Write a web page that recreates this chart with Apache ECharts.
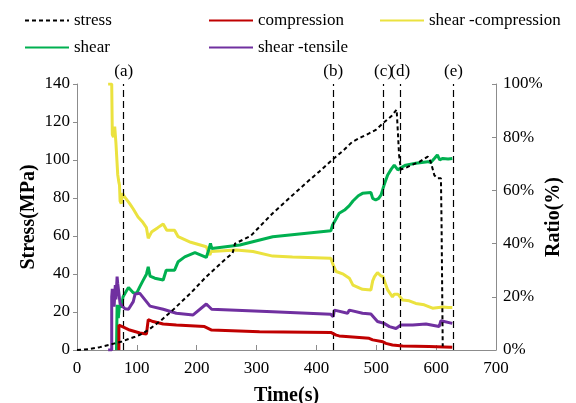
<!DOCTYPE html>
<html>
<head>
<meta charset="utf-8">
<script src="https://cdn.jsdelivr.net/npm/echarts@6/dist/echarts.min.js"></script>
<style>
  html, body { margin: 0; padding: 0; background: #fff; }
  #chart { width: 576px; height: 403px; }
</style>
</head>
<body>
<div id="chart"></div>
<script>
// Axial stress (MPa) against time (s)
const stress = [
  [0, 0], [20, 0.5], [38, 1.5], [55, 2.8], [63, 3.5], [75, 4.5], [86, 5.8], [97, 7],
  [105, 8], [119, 10.5], [140, 15.5], [160, 21], [190, 30], [216, 38.6], [245, 47],
  [260, 51], [264, 56], [290, 60], [327, 72], [355, 80], [383, 88], [405, 94],
  [428, 100.5], [445, 105], [460, 109.6], [475, 112], [488, 114], [500, 116],
  [511, 119.3], [525, 123], [534, 126.5], [536, 115], [538, 103], [541, 95],
  [550, 96], [560, 97.5], [572, 99], [586, 101.8], [591, 99], [597, 92], [602, 90.4],
  [608, 90.4], [609, 68], [611, 2]
];

// Share (%) of each failure type among the events
const compression = [
  [70, 0], [70, 9.4], [72, 8.8], [82, 8.1], [88, 7.5], [105, 6.4], [116, 6], [119, 11.4],
  [127, 10.7], [144, 9.8], [166, 9.4], [213, 8.8], [225, 7.5], [305, 6.9], [424, 6.6],
  [433, 5.6], [438, 5.3], [455, 5], [488, 4.4], [494, 3.8], [511, 3.1], [516, 2.5],
  [527, 1.9], [544, 1.5], [588, 1.3], [627, 1]
];

const shearCompression = [
  [52, 100], [58, 100], [59, 81], [61, 80], [63, 84], [65, 78], [68, 66], [70, 63],
  [71, 62], [72, 56], [74, 55], [76, 59], [78, 58], [88, 55], [94, 53], [102, 50],
  [110, 48], [116, 46], [119, 42], [121, 41.5], [125, 44.5], [135, 46], [144, 47.4],
  [150, 45], [163, 45], [169, 42.6], [190, 40.5], [216, 38.8], [222, 35.7], [224, 37],
  [266, 37.6], [294, 37], [327, 35.3], [360, 35], [424, 34.5], [428, 32], [433, 29.5],
  [445, 28.5], [455, 27], [461, 24.4], [477, 22.8], [491, 22.6], [494, 26], [497, 27.6],
  [502, 29.1], [507, 28], [511, 27.6], [519, 22.6], [527, 20], [530, 21], [536, 21],
  [544, 18.8], [555, 18.5], [566, 17.5], [580, 17], [594, 15.7], [611, 16.2], [620, 16],
  [627, 16]
];

const shear = [
  [66, 0], [67, 17], [69, 12], [71, 17], [74, 16], [77, 20], [82, 22], [86, 23.5],
  [88, 23.2], [94, 21.5], [99.5, 21.3], [105, 23.8], [110, 26], [116, 28.5], [119, 31.3],
  [122, 27.8], [130, 27], [144, 26.3], [149, 30], [163, 30], [169, 33.2], [180, 35],
  [197, 36.6], [216, 34.8], [220, 37.6], [223, 40.1], [225, 38.2], [272, 39.5],
  [327, 42.6], [424, 44.8], [427, 47], [432, 49], [438, 51.4], [447, 52.6], [455, 54.3],
  [461, 56], [470, 58], [477, 58.9], [491, 59.2], [494, 57], [499, 56.4], [504, 57],
  [508, 58.3], [513, 62], [519, 65.8], [525, 68], [530, 69.5], [536, 67.7], [541, 68.5],
  [549, 69.5], [566, 70.2], [586, 70.8], [591, 70.5], [597, 72], [602, 73.3], [606, 71.5],
  [611, 72], [620, 71.8], [627, 72]
];

const shearTensile = [
  [52, 0], [58, 0], [58, 20], [59, 23], [61, 20], [62, 16.3], [64, 24.4], [65, 19],
  [67, 27.6], [68, 25], [70, 24.4], [72, 17.5], [74, 17], [80, 15.5], [86, 15.3],
  [88, 15.8], [94, 18.2], [97, 21], [105, 21.3], [111, 19.6], [113, 20], [122, 16.5],
  [144, 15.3], [166, 13.8], [194, 13.2], [216, 17.3], [225, 15.3], [327, 14.4],
  [424, 13.4], [428, 12.5], [430, 15], [452, 13.8], [455, 15], [458, 14.5], [477, 13.8],
  [491, 13.5], [502, 10.7], [513, 10], [522, 8.8], [533, 8.1], [541, 9.4], [561, 9.4],
  [583, 9.8], [605, 8.8], [608, 11], [611, 11.3], [627, 10]
];

// Stage markers (time, label)
const stageTimes = [78, 428, 512, 540, 629];
const stageLabels = ['(a)', '(b)', '(c)', '(d)', '(e)'];

const timeTicks = { min: 0, max: 700, interval: 100 };
const stressTicks = { min: 0, max: 140, interval: 20 };
const ratioTicks = { min: 0, max: 100, interval: 20 };

const FONT = "'Liberation Serif', 'Times New Roman', serif";
const AXIS_GRAY = '#8c8c8c';

const chart = echarts.init(document.getElementById('chart'), null, { renderer: 'canvas' });

// One legend block per entry so the two rows can be laid out freely
function legendAt(name, left, top) {
  return {
    data: [name], left: left, top: top, itemWidth: 44, itemHeight: 12, itemGap: 4,
    itemStyle: { opacity: 0 },
    textStyle: { fontFamily: FONT, fontSize: 17, color: '#000' }
  };
}

const nameStyle = { fontFamily: FONT, fontSize: 20, fontWeight: 'bold', color: '#000' };
const tickText = { fontFamily: FONT, fontSize: 17, color: '#000' };

const lineBase = { type: 'line', showSymbol: false, symbol: 'none', smooth: false, animation: false };

chart.setOption({
  backgroundColor: '#fff',
  animation: false,
  textStyle: { fontFamily: FONT },
  grid: { left: 77, right: 80, top: 84, bottom: 53, containLabel: false, outerBoundsMode: 'none' },
  legend: [
    legendAt('stress', 19, 7),
    legendAt('compression', 203, 7),
    legendAt('shear -compression', 374, 7),
    legendAt('shear', 19, 34),
    legendAt('shear -tensile', 203, 34)
  ],
  xAxis: {
    type: 'value', min: timeTicks.min, max: timeTicks.max, interval: timeTicks.interval,
    name: 'Time(s)', nameLocation: 'middle', nameGap: 36, nameTextStyle: nameStyle,
    axisLine: { show: true, lineStyle: { color: AXIS_GRAY, width: 1 } },
    axisTick: { show: true, inside: true, length: 5, lineStyle: { color: AXIS_GRAY } },
    axisLabel: Object.assign({ margin: 10 }, tickText),
    splitLine: { show: false }
  },
  yAxis: [
    {
      type: 'value', min: stressTicks.min, max: stressTicks.max, interval: stressTicks.interval,
      name: 'Stress(MPa)', nameLocation: 'middle', nameGap: 38, nameRotate: 90,
      nameMoveOverlap: false, nameTextStyle: nameStyle,
      axisLine: { show: true, lineStyle: { color: AXIS_GRAY, width: 1 } },
      axisTick: { show: true, inside: false, length: 4, lineStyle: { color: AXIS_GRAY } },
      axisLabel: Object.assign({ margin: 7 }, tickText),
      splitLine: { show: false }
    },
    {
      type: 'value', min: ratioTicks.min, max: ratioTicks.max, interval: ratioTicks.interval,
      position: 'right',
      name: 'Ratio(%)', nameLocation: 'middle', nameGap: 48, nameRotate: 90,
      nameMoveOverlap: false, nameTextStyle: nameStyle,
      axisLine: { show: true, lineStyle: { color: AXIS_GRAY, width: 1 } },
      axisTick: { show: true, inside: true, length: 4, lineStyle: { color: AXIS_GRAY } },
      axisLabel: Object.assign({ margin: 7, formatter: '{value}%' }, tickText),
      splitLine: { show: false }
    }
  ],
  series: [
    Object.assign({}, lineBase, {
      name: 'shear -compression', yAxisIndex: 1, data: shearCompression, z: 2,
      itemStyle: { color: '#EBE23F' }, lineStyle: { color: '#EBE23F', width: 3 }
    }),
    Object.assign({}, lineBase, {
      name: 'shear', yAxisIndex: 1, data: shear, z: 3,
      itemStyle: { color: '#00B050' }, lineStyle: { color: '#00B050', width: 3 }
    }),
    Object.assign({}, lineBase, {
      name: 'shear -tensile', yAxisIndex: 1, data: shearTensile, z: 4,
      itemStyle: { color: '#7030A0' }, lineStyle: { color: '#7030A0', width: 3 }
    }),
    Object.assign({}, lineBase, {
      name: 'compression', yAxisIndex: 1, data: compression, z: 5,
      itemStyle: { color: '#C00000' }, lineStyle: { color: '#C00000', width: 3 }
    }),
    Object.assign({}, lineBase, {
      name: 'stress', yAxisIndex: 0, data: stress, z: 6,
      itemStyle: { color: '#000' }, lineStyle: { color: '#000', width: 2, type: [4, 3] },
      markLine: {
        silent: true, symbol: 'none', animation: false,
        lineStyle: { color: '#000', width: 1.2, type: [7, 4] },
        label: {
          show: true, position: 'end', distance: 4, fontFamily: FONT, fontSize: 17, color: '#000',
          formatter: (p) => stageLabels[p.dataIndex]
        },
        data: stageTimes.map((t) => ({ xAxis: t }))
      }
    })
  ]
});
</script>
</body>
</html>
